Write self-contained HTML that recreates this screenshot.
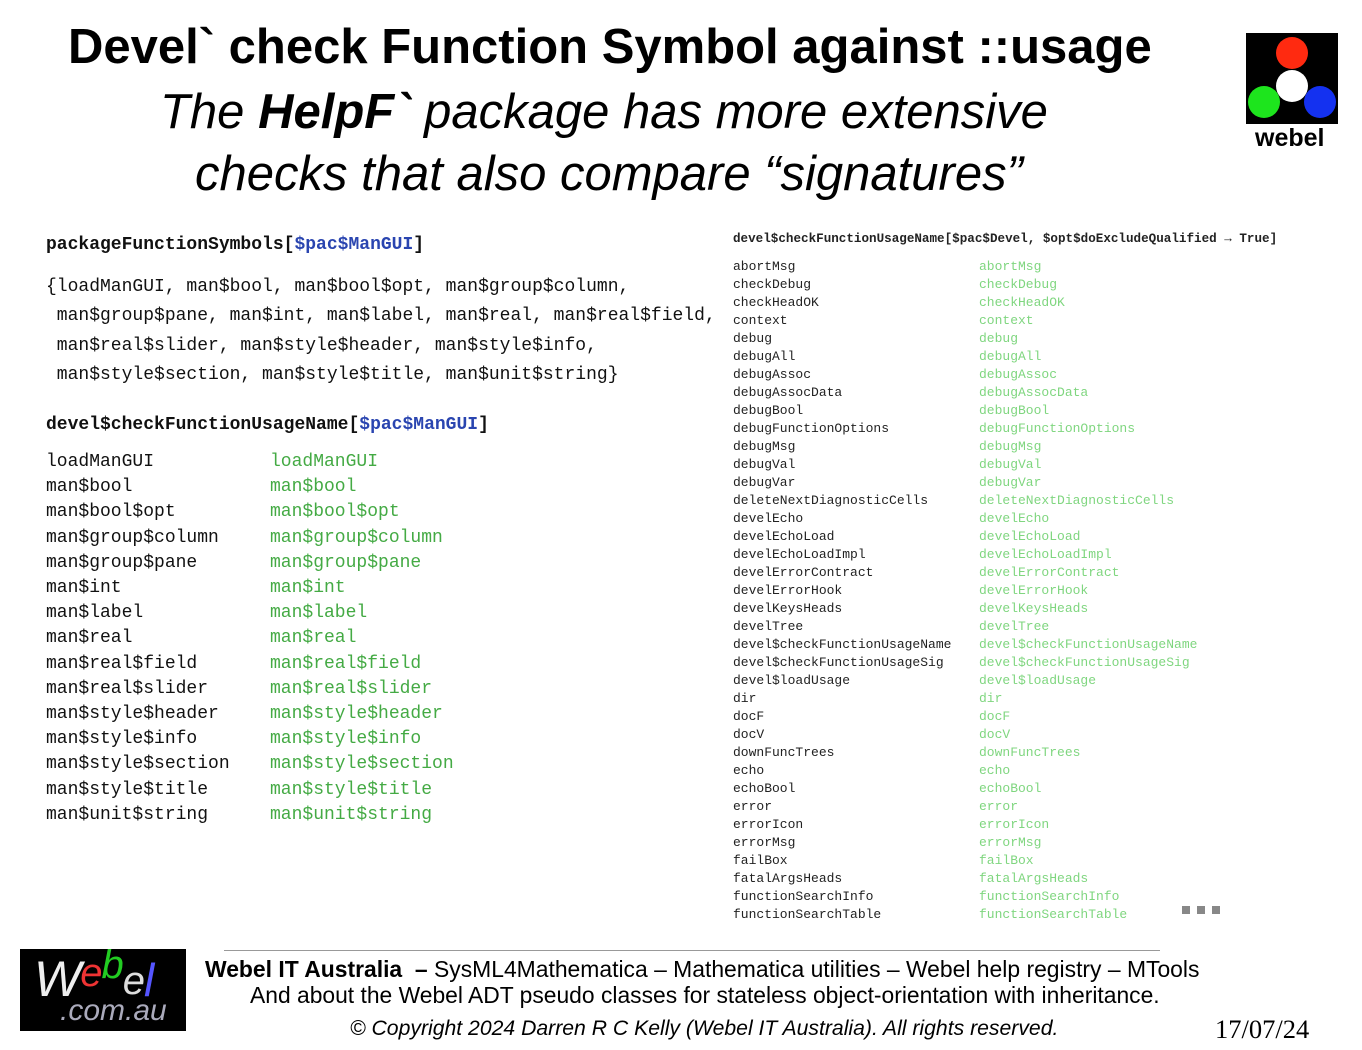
<!DOCTYPE html>
<html><head><meta charset="utf-8"><style>
body{margin:0;width:1362px;height:1050px;background:#fff;position:relative;overflow:hidden;font-family:"Liberation Sans",sans-serif}
.a{position:absolute;white-space:pre}
.m{font-family:"Liberation Mono",monospace}
.L{font-size:18px;color:#111}
.g{color:#44aa44}
.b{color:#2a45b0}
.R{font-size:13px;color:#222;line-height:18px}
.rg{color:#7fd67f}
</style></head><body>
<div class="a" style="left:68px;top:19px;font-size:49px;font-weight:bold">Devel` check Function Symbol against ::usage</div>
<div class="a" style="left:160px;top:84px;font-size:49px;font-style:italic">The <b>HelpF`</b> package has more extensive</div>
<div class="a" style="left:195px;top:146px;font-size:49px;font-style:italic">checks that also compare “signatures”</div>

<div class="a" style="left:1246px;top:33px;width:92px;height:91px;background:#000"></div>
<svg class="a" style="left:1246px;top:33px" width="92" height="91"><circle cx="46" cy="20" r="16" fill="#ff2a10"/><circle cx="46" cy="53" r="16" fill="#fff"/><circle cx="18" cy="69" r="16" fill="#1de51d"/><circle cx="74" cy="69" r="16" fill="#1431f0"/></svg>
<div class="a" style="left:1255px;top:124px;font-size:25px;font-weight:bold">webel</div>

<div class="a m L" style="left:46px;top:235px;font-weight:bold">packageFunctionSymbols[<span class="b">$pac$ManGUI</span>]</div>
<div class="a m L" style="left:46px;top:273px;line-height:29.3px">{loadManGUI, man$bool, man$bool$opt, man$group$column,
 man$group$pane, man$int, man$label, man$real, man$real$field,
 man$real$slider, man$style$header, man$style$info,
 man$style$section, man$style$title, man$unit$string}</div>
<div class="a m L" style="left:46px;top:415px;font-weight:bold">devel$checkFunctionUsageName[<span class="b">$pac$ManGUI</span>]</div>
<div class="a m L" style="left:46px;top:450px;line-height:25.2px">loadManGUI
man$bool
man$bool$opt
man$group$column
man$group$pane
man$int
man$label
man$real
man$real$field
man$real$slider
man$style$header
man$style$info
man$style$section
man$style$title
man$unit$string</div>
<div class="a m L g" style="left:270px;top:450px;line-height:25.2px">loadManGUI
man$bool
man$bool$opt
man$group$column
man$group$pane
man$int
man$label
man$real
man$real$field
man$real$slider
man$style$header
man$style$info
man$style$section
man$style$title
man$unit$string</div>

<div class="a m" style="left:733px;top:232px;font-size:12.6px;font-weight:bold;color:#222">devel$checkFunctionUsageName[$pac$Devel, $opt$doExcludeQualified → True]</div>
<div class="a m R" style="left:733px;top:258px">abortMsg
checkDebug
checkHeadOK
context
debug
debugAll
debugAssoc
debugAssocData
debugBool
debugFunctionOptions
debugMsg
debugVal
debugVar
deleteNextDiagnosticCells
develEcho
develEchoLoad
develEchoLoadImpl
develErrorContract
develErrorHook
develKeysHeads
develTree
devel$checkFunctionUsageName
devel$checkFunctionUsageSig
devel$loadUsage
dir
docF
docV
downFuncTrees
echo
echoBool
error
errorIcon
errorMsg
failBox
fatalArgsHeads
functionSearchInfo
functionSearchTable</div>
<div class="a m R rg" style="left:979px;top:258px">abortMsg
checkDebug
checkHeadOK
context
debug
debugAll
debugAssoc
debugAssocData
debugBool
debugFunctionOptions
debugMsg
debugVal
debugVar
deleteNextDiagnosticCells
develEcho
develEchoLoad
develEchoLoadImpl
develErrorContract
develErrorHook
develKeysHeads
develTree
devel$checkFunctionUsageName
devel$checkFunctionUsageSig
devel$loadUsage
dir
docF
docV
downFuncTrees
echo
echoBool
error
errorIcon
errorMsg
failBox
fatalArgsHeads
functionSearchInfo
functionSearchTable</div>
<div class="a" style="left:1182px;top:906px;width:8px;height:8px;background:#888"></div>
<div class="a" style="left:1197px;top:906px;width:8px;height:8px;background:#888"></div>
<div class="a" style="left:1212px;top:906px;width:8px;height:8px;background:#888"></div>

<div class="a" style="left:224px;top:950px;width:936px;height:1px;background:#999"></div>
<div class="a" style="left:20px;top:949px;width:166px;height:82px;background:#000"></div>
<div class="a" style="left:34px;top:950px;font-size:50px;font-style:italic;color:#eee;letter-spacing:-1px">W<span style="color:#e33;font-size:40px;position:relative;top:-10px">e</span><span style="color:#2c2;font-size:40px;position:relative;top:-18px">b</span><span style="color:#ddd;font-size:40px;position:relative;top:-2px">e</span><span style="color:#55f;font-size:46px">l</span></div>
<div class="a" style="left:60px;top:994px;font-size:30px;font-style:italic;color:#aab">.com.au</div>
<div class="a" style="left:205px;top:956px;font-size:22.9px"><b>Webel IT Australia  –</b> SysML4Mathematica – Mathematica utilities – Webel help registry – MTools</div>
<div class="a" style="left:250px;top:982px;font-size:22.85px">And about the Webel ADT pseudo classes for stateless object-orientation with inheritance.</div>
<div class="a" style="left:350px;top:1017px;font-size:21.2px;font-style:italic">© Copyright 2024 Darren R C Kelly (Webel IT Australia). All rights reserved.</div>
<div class="a" style="left:1215px;top:1014px;font-size:26.5px;font-family:'Liberation Serif',serif">17/07/24</div>
</body></html>
